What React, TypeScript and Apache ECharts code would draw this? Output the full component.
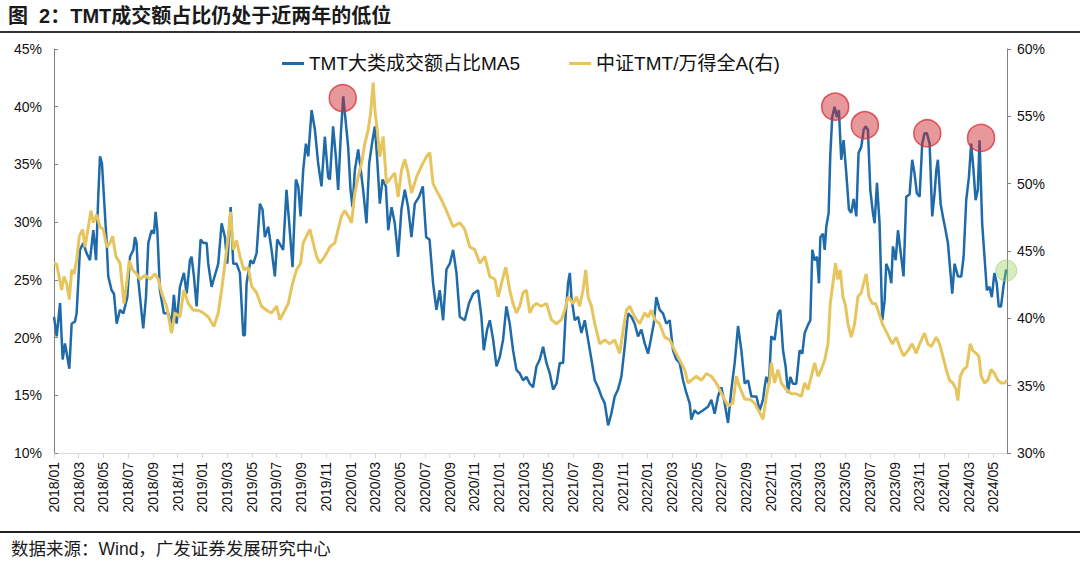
import React, { useEffect, useRef } from "react";
import * as echarts from "echarts";

// x positions are months since 2018/01 (0 = 2018/01/01)
const blueMonths = [
  0.0, 0.22, 0.49, 0.7, 0.89, 1.24, 1.43, 1.7, 1.83, 2.1, 2.37, 2.64, 2.91, 3.18, 3.4, 3.58, 3.72, 3.88, 4.04, 4.26, 4.39, 4.66, 4.85, 5.07, 5.34, 5.61, 5.93, 6.15, 6.42, 6.55, 6.68, 6.82, 7.09, 7.22, 7.44, 7.63, 7.9, 8.09, 8.22, 8.36, 8.57, 8.89, 9.25, 9.51, 9.7, 9.92, 10.19, 10.51, 10.73, 11.0, 11.13, 11.32, 11.54, 11.86, 12.08, 12.35, 12.48, 12.75, 13.02, 13.29, 13.56, 13.83, 14.02, 14.29, 14.5, 14.77, 15.04, 15.31, 15.44, 15.58, 15.9, 16.12, 16.39, 16.66, 16.87, 17.06, 17.33, 17.6, 17.87, 18.06,
  18.54, 18.81, 19.03, 19.3, 19.57, 19.76, 19.95, 20.16, 20.38, 20.57, 20.84, 21.11, 21.37, 21.64, 21.91, 22.18, 22.32, 22.58, 22.8, 22.99, 23.21, 23.4, 23.61, 23.8, 23.99, 24.15, 24.34, 24.61, 24.82, 25.01, 25.28, 25.5, 25.77, 25.96, 26.15, 26.36, 26.58, 26.85, 27.04, 27.31, 27.57, 27.84, 28.11, 28.38, 28.65, 28.92, 29.19, 29.54, 29.84, 30.11, 30.38, 30.67, 30.94, 31.21, 31.48, 31.75, 32.02, 32.29, 32.56, 32.83, 33.23, 33.58, 33.91, 34.31, 34.58, 34.77, 35.04, 35.26, 35.53, 35.8, 36.06, 36.33, 36.6, 36.87, 37.14, 37.41,
  37.68, 37.95, 38.22, 38.49, 38.76, 39.03, 39.3, 39.57, 39.84, 40.11, 40.38, 40.65, 40.92, 41.19, 41.4, 41.59, 41.73, 41.86, 42.13, 42.4, 42.67, 42.94, 43.21, 43.48, 43.75, 44.02, 44.29, 44.56, 44.83, 45.09, 45.36, 45.63, 45.9, 46.17, 46.44, 46.71, 46.98, 47.25, 47.52, 47.79, 48.06, 48.33, 48.52, 48.73, 49.0, 49.27, 49.54, 49.81, 50.08, 50.35, 50.62, 50.89, 51.16, 51.43, 51.56, 51.83, 52.1, 52.51, 52.91, 53.18, 53.45, 53.72, 53.99, 54.26, 54.53, 54.8, 55.07, 55.34, 55.61, 55.88, 56.15, 56.42, 56.83,
  57.09, 57.36, 57.49, 57.63, 57.84, 58.03, 58.3, 58.57, 58.76, 58.98, 59.19, 59.38, 59.57, 59.78, 60.05, 60.32, 60.54, 60.73, 61.0, 61.19, 61.35, 61.54, 61.73, 61.89, 62.0, 62.21, 62.35, 62.48, 62.67, 62.8, 62.96, 63.15, 63.34, 63.5, 63.69, 63.88, 64.1, 64.31, 64.5, 64.69, 64.91, 65.09, 65.31, 65.5, 65.66, 65.85, 66.04, 66.25, 66.39, 66.58, 66.79, 67.01, 67.2, 67.33, 67.55, 67.74, 67.87, 68.09, 68.28, 68.54, 68.73, 68.95, 69.22, 69.43, 69.62, 69.81, 70.03, 70.24, 70.43, 70.62, 70.84, 71.05, 71.24, 71.38, 71.51, 71.73, 71.91, 72.13, 72.32, 72.51, 72.67, 72.86, 73.13, 73.4, 73.59, 73.8, 74.02, 74.2, 74.39, 74.56, 74.74, 74.88, 75.09, 75.28, 75.47, 75.68, 75.87, 76.08, 76.27, 76.43, 76.62, 76.81, 77.03,
];
const blueValues = [
  21.8, 20.1, 23.0, 18.1, 19.5, 17.3, 21.2, 21.4, 22.1, 27.6, 28.2, 27.3, 26.7, 29.3, 26.7, 32.2, 35.7, 35.1, 32.2, 28.2, 25.3, 24.1, 23.8, 21.2, 22.4, 22.1, 23.5, 27.0, 27.6, 28.7, 28.2, 25.0, 22.1, 20.8, 23.5, 28.2, 29.3, 29.0, 30.9, 29.3, 24.1, 22.1, 22.1, 21.2, 23.7, 21.2, 24.4, 25.6, 23.8, 26.7, 27.0, 25.3, 22.7, 28.5, 28.2, 28.2, 26.4, 24.4, 25.4, 26.4, 29.9, 28.7, 26.4, 31.3, 26.4, 26.4, 25.6, 20.2, 20.2, 24.7, 26.7, 26.4, 27.3, 31.6, 31.1, 28.7, 29.6, 27.6, 25.3, 28.5,
  27.6, 32.8, 29.9, 26.1, 33.7, 33.1, 30.5, 34.5, 36.8, 35.7, 39.7, 38.0, 35.1, 33.1, 37.4, 33.9, 33.7, 38.3, 35.7, 32.8, 37.7, 40.9, 38.6, 36.5, 32.8, 31.3, 34.5, 36.3, 34.5, 32.8, 29.9, 35.1, 37.1, 38.3, 35.4, 31.6, 33.7, 33.1, 29.3, 31.3, 29.9, 27.0, 31.1, 32.8, 31.3, 28.7, 31.6, 32.2, 33.1, 28.7, 28.5, 24.7, 22.4, 24.1, 21.5, 25.9, 26.4, 27.6, 25.6, 21.8, 21.5, 23.0, 23.8, 24.1, 21.8, 18.9, 20.7, 21.5, 19.8, 17.5, 18.3, 19.8, 22.7, 21.2, 18.9, 17.2,
  16.9, 16.3, 16.6, 16.0, 15.7, 17.5, 18.1, 19.2, 17.8, 16.9, 15.5, 16.0, 17.8, 17.8, 22.1, 24.7, 25.6, 23.5, 21.5, 21.8, 20.4, 21.5, 19.8, 18.1, 16.3, 15.7, 14.9, 14.3, 12.4, 13.4, 14.9, 15.5, 16.6, 19.2, 22.1, 21.8, 21.2, 20.1, 20.7, 19.5, 18.6, 20.1, 21.2, 23.5, 22.4, 22.1, 21.2, 21.5, 18.9, 18.1, 17.8, 16.3, 15.2, 14.3, 12.9, 13.7, 13.4, 13.7, 14.0, 14.6, 13.4, 14.9, 15.7, 14.3, 12.6, 15.5, 17.8, 21.0, 18.9, 16.0, 16.3, 14.9, 14.9,
  13.7, 14.6, 15.7, 16.6, 16.0, 20.1, 19.8, 22.1, 22.4, 18.9, 17.5, 15.2, 16.6, 16.0, 16.0, 18.9, 18.6, 20.4, 21.1, 21.5, 27.6, 26.7, 27.0, 24.7, 28.7, 29.0, 27.6, 29.6, 30.8, 35.7, 39.1, 40.0, 39.1, 39.7, 35.4, 37.1, 34.2, 31.1, 30.8, 32.0, 30.5, 36.0, 36.5, 38.0, 38.3, 38.0, 32.8, 30.8, 29.9, 33.4, 29.9, 21.5, 23.2, 26.4, 25.8, 24.7, 27.9, 26.7, 29.3, 27.0, 25.3, 32.2, 32.4, 35.4, 34.2, 32.5, 32.2, 36.8, 37.7, 37.7, 36.8, 30.5, 32.5, 34.5, 35.4, 31.6, 30.5, 29.3, 28.2, 25.8, 23.8, 26.4, 25.3, 25.3, 27.0, 31.9, 33.9, 36.8, 34.5, 31.9, 32.8, 37.1, 29.9, 27.0, 24.1, 24.4, 23.5, 25.6, 24.7, 22.7, 22.7, 24.4, 25.9,
];

const yellowMonths = [
  0.0, 0.22, 0.43, 0.62, 0.81, 1.02, 1.24, 1.43, 1.62, 1.83, 2.05, 2.32, 2.51, 2.78, 2.99, 3.18, 3.45, 3.72, 3.99, 4.26, 4.53, 4.74, 5.01, 5.34, 5.66, 5.88, 6.09, 6.36, 6.68, 6.95, 7.36, 7.76, 8.17, 8.44, 8.71, 9.11, 9.51, 9.78, 10.19, 10.51, 10.86, 11.27, 11.67, 12.08, 12.48, 12.94, 13.29, 13.56, 13.83, 14.1, 14.29, 14.5, 14.77, 15.04, 15.36, 15.71, 15.98, 16.39, 16.79, 17.2, 17.6, 18.01,
  18.27, 18.68, 18.95, 19.3, 19.62, 19.95, 20.16, 20.43, 20.7, 20.97, 21.24, 21.51, 21.91, 22.32, 22.72, 22.99, 23.26, 23.53, 23.8, 24.07, 24.34, 24.61, 24.88, 25.15, 25.42, 25.61, 25.82, 25.96, 26.15, 26.36, 26.63, 26.9, 27.31, 27.57, 27.84, 28.11, 28.38, 28.65, 28.92, 29.33, 29.73, 30.13, 30.4, 30.67, 30.94, 31.35, 31.75, 32.29, 32.83, 33.23, 33.64, 34.04, 34.45, 34.85, 35.26, 35.67, 35.94, 36.2, 36.55, 36.87, 37.14, 37.41,
  37.68, 37.95, 38.22, 38.49, 38.76, 39.03, 39.43, 39.84, 40.24, 40.65, 41.05, 41.32, 41.59, 42.0, 42.26, 42.53, 42.8, 43.02, 43.21, 43.48, 43.75, 44.15, 44.56, 44.96, 45.36, 45.77, 46.04, 46.31, 46.58, 46.98, 47.39, 47.79, 48.06, 48.33, 48.6, 49.0, 49.41, 49.81, 50.22, 50.62, 51.02, 51.29, 51.56, 51.97, 52.37, 52.78, 53.18, 53.58, 53.85, 54.12, 54.53, 54.93, 55.2, 55.47, 55.88, 56.29, 56.68,
  57.09, 57.36, 57.63, 57.9, 58.03, 58.3, 58.57, 58.84, 59.25, 59.65, 60.05, 60.46, 60.73, 61.0, 61.27, 61.54, 61.81, 62.08, 62.35, 62.62, 62.8, 63.02, 63.23, 63.42, 63.61, 63.83, 64.04, 64.23, 64.5, 64.77, 65.04, 65.31, 65.5, 65.71, 65.93, 66.2, 66.47, 66.74, 67.01, 67.28, 67.55, 67.82, 68.14, 68.41, 68.73, 69.08, 69.43, 69.76, 70.03, 70.43, 70.7, 70.97, 71.38, 71.65, 71.91, 72.18, 72.45, 72.72, 72.99, 73.12, 73.32, 73.58, 73.85, 74.12, 74.34, 74.61, 74.82, 75.01, 75.28, 75.55, 75.82, 76.09, 76.36, 76.63, 76.9, 77.1,
];
const yellowValues = [
  44.1, 44.0, 43.0, 42.1, 43.1, 42.6, 41.4, 43.6, 43.3, 44.3, 46.1, 46.6, 45.3, 46.8, 48.0, 47.1, 47.7, 46.8, 46.6, 45.3, 45.6, 46.1, 44.6, 44.1, 41.1, 42.6, 44.3, 43.6, 43.3, 42.9, 43.2, 42.9, 43.3, 42.9, 41.9, 40.9, 38.9, 40.4, 40.1, 42.1, 41.1, 40.6, 40.6, 40.4, 40.1, 39.4, 40.4, 42.1, 44.1, 46.1, 47.9, 45.1, 45.8, 44.6, 43.6, 43.8, 42.4, 41.9, 40.9, 40.6, 40.4, 40.9,
  39.9, 40.6, 41.1, 42.6, 43.6, 44.1, 45.6, 46.1, 46.6, 45.6, 44.6, 44.1, 44.6, 45.3, 45.6, 46.6, 47.6, 48.0, 47.6, 47.1, 49.3, 50.5, 51.5, 53.0, 54.0, 55.2, 57.5, 55.5, 54.0, 52.0, 53.5, 50.0, 50.5, 50.8, 49.0, 51.0, 51.8, 50.8, 49.3, 50.5, 51.3, 52.0, 52.3, 50.0, 49.5, 48.8, 48.0, 46.8, 47.1, 46.6, 45.3, 45.1, 44.1, 44.6, 43.1, 42.9, 41.6, 42.6, 43.8, 42.1, 41.1, 40.4,
  40.9, 41.9, 42.1, 40.4, 40.9, 41.1, 40.9, 41.1, 39.9, 39.6, 39.9, 40.6, 41.6, 41.1, 41.6, 40.9, 42.1, 43.6, 41.6, 40.9, 39.6, 38.1, 38.4, 38.1, 38.4, 37.4, 39.1, 40.6, 40.9, 40.1, 39.6, 40.4, 40.1, 40.6, 39.9, 39.6, 38.6, 38.4, 37.6, 36.9, 36.2, 35.2, 35.4, 35.7, 35.4, 35.9, 35.7, 35.2, 34.7, 34.2, 33.5, 33.7, 35.7, 34.9, 34.0, 34.0, 33.7,
  33.0, 32.5, 34.2, 35.4, 36.7, 35.2, 36.2, 35.2, 34.7, 34.4, 34.4, 34.2, 35.2, 34.7, 35.7, 36.7, 35.7, 36.2, 36.9, 38.1, 41.1, 42.6, 44.1, 42.9, 43.6, 41.6, 40.9, 39.6, 38.6, 39.6, 41.6, 41.9, 42.6, 43.3, 41.6, 41.1, 41.1, 40.4, 39.6, 39.1, 38.6, 38.1, 38.6, 37.9, 37.2, 37.6, 38.1, 37.4, 38.1, 38.9, 38.1, 37.9, 38.6, 38.1, 37.2, 36.2, 35.4, 35.2, 34.7, 33.9, 35.7, 36.2, 36.4, 38.1, 37.6, 37.4, 37.2, 35.7, 35.2, 35.4, 36.2, 35.9, 35.4, 35.2, 35.2, 35.4,
];

// highlighted points on the blue series (left axis)
const peakMonths = [23.36, 63.2, 65.6, 70.65, 75.0];
const peakValues = [40.75, 40.0, 38.4, 37.7, 37.3];
const latestMonth = [77.04];
const latestValue = [25.8];

const seriesNames = ["TMT大类成交额占比MA5", "中证TMT/万得全A(右)"];
const titleText = "图  2：TMT成交额占比仍处于近两年的低位";
const sourceText = "数据来源：Wind，广发证券发展研究中心";

const FONT = "'Liberation Sans', Arial, 'Noto Sans CJK SC', sans-serif";

export default function App() {
  const ref = useRef<HTMLDivElement>(null);

  useEffect(() => {
    document.body.style.margin = "0";
    if (!ref.current) return;
    const chart = echarts.init(ref.current, undefined, { renderer: "svg" });

    const blueData = blueMonths.map((m, i) => [m, blueValues[i]]);
    const yellowData = yellowMonths.map((m, i) => [m, yellowValues[i]]);
    const peakData = peakMonths.map((m, i) => [m, peakValues[i]]);
    const latestData = latestMonth.map((m, i) => [m, latestValue[i]]);

    const monthLabel = (v: number) => {
      const mi = Math.round(v);
      const y = 2018 + Math.floor(mi / 12);
      const mo = (mi % 12) + 1;
      return `${y}/${mo < 10 ? "0" + mo : mo}`;
    };

    chart.setOption({
      animation: false,
      backgroundColor: "#ffffff",
      textStyle: { fontFamily: FONT },
      grid: { left: 54, right: 73, top: 49, bottom: 110, containLabel: false },
      legend: {
        data: seriesNames,
        left: 282,
        top: 54,
        padding: 0,
        icon: "rect",
        itemWidth: 22,
        itemHeight: 3,
        itemGap: 49,
        textStyle: { fontSize: 19, color: "#111", fontFamily: FONT },
      },
      xAxis: {
        type: "value",
        min: 0,
        max: 77.1,
        interval: 2,
        axisLine: { show: true, lineStyle: { color: "#d9d9d9", width: 1 } },
        axisTick: { show: true, length: 5, lineStyle: { color: "#d9d9d9" } },
        splitLine: { show: false },
        axisLabel: {
          rotate: 90,
          fontSize: 14,
          color: "#111",
          margin: 9,
          showMaxLabel: false,
          formatter: monthLabel,
        },
      },
      yAxis: [
        {
          type: "value",
          min: 10,
          max: 45,
          interval: 5,
          position: "left",
          axisLine: { show: true, lineStyle: { color: "#808080", width: 1 } },
          axisTick: { show: true, inside: true, length: 4, lineStyle: { color: "#808080" } },
          splitLine: { show: false },
          axisLabel: { fontSize: 14, color: "#111", margin: 12, formatter: "{value}%" },
        },
        {
          type: "value",
          min: 30,
          max: 60,
          interval: 5,
          position: "right",
          axisLine: { show: true, lineStyle: { color: "#808080", width: 1 } },
          axisTick: { show: true, inside: false, length: 4, lineStyle: { color: "#808080" } },
          splitLine: { show: false },
          axisLabel: { fontSize: 14, color: "#111", margin: 10, formatter: "{value}%" },
        },
      ],
      series: [
        {
          name: seriesNames[0],
          type: "line",
          yAxisIndex: 0,
          data: blueData,
          showSymbol: false,
          lineStyle: { color: "#1f6aa8", width: 2.5 },
          itemStyle: { color: "#1f6aa8" },
          z: 2,
        },
        {
          name: seriesNames[1],
          type: "line",
          yAxisIndex: 1,
          data: yellowData,
          showSymbol: false,
          lineStyle: { color: "#e6c55f", width: 3 },
          itemStyle: { color: "#e6c55f" },
          z: 3,
        },
        {
          name: "peaks",
          type: "scatter",
          yAxisIndex: 0,
          data: peakData,
          symbol: "circle",
          symbolSize: 27,
          itemStyle: { color: "rgba(205,40,45,0.6)", borderColor: "#d8323a", borderWidth: 1.5 },
          silent: true,
          z: 5,
        },
        {
          name: "latest",
          type: "scatter",
          yAxisIndex: 0,
          data: latestData,
          symbol: "circle",
          symbolSize: 21,
          itemStyle: { color: "rgba(150,210,90,0.5)", borderColor: "rgba(160,210,130,0.9)", borderWidth: 1 },
          silent: true,
          z: 5,
        },
      ],
      graphic: [
        {
          type: "text",
          left: 8,
          top: 6,
          style: { text: titleText, fontSize: 20, fontWeight: "bold", fill: "#1a1a1a", fontFamily: FONT },
        },
        {
          type: "line",
          shape: { x1: 0, y1: 32, x2: 1080, y2: 32 },
          style: { stroke: "#333", lineWidth: 2 },
        },
        {
          type: "line",
          shape: { x1: 0, y1: 532, x2: 1080, y2: 532 },
          style: { stroke: "#222", lineWidth: 2 },
        },
        {
          type: "text",
          left: 11,
          top: 540,
          style: { text: sourceText, fontSize: 17.5, fill: "#1a1a1a", fontFamily: FONT },
        },
      ],
    });

    return () => chart.dispose();
  }, []);

  return <div ref={ref} style={{ width: 1080, height: 563 }} />;
}
